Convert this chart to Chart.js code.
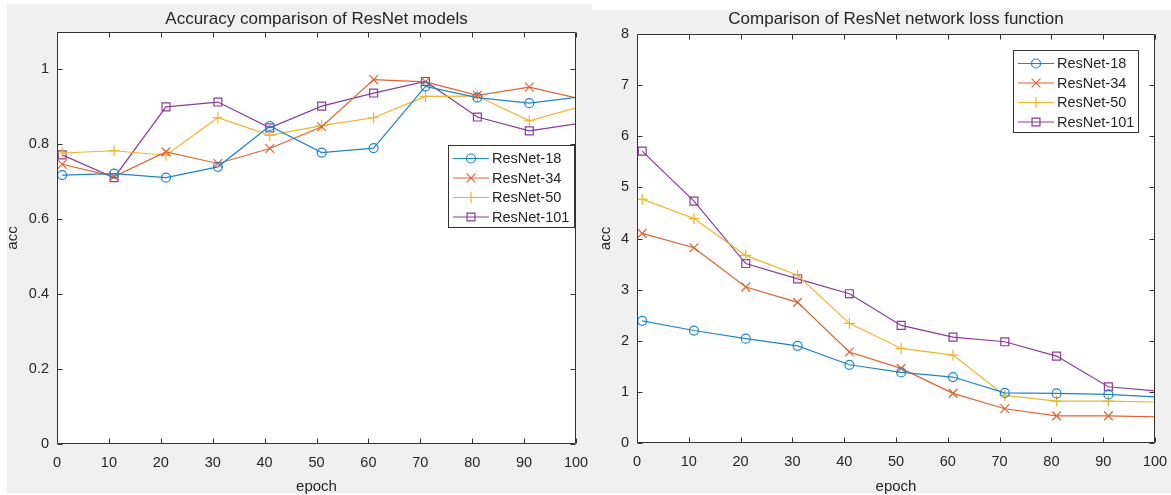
<!DOCTYPE html>
<html>
<head>
<meta charset="utf-8">
<script src="https://cdn.jsdelivr.net/npm/chart.js@4.4.1/dist/chart.umd.min.js"></script>
<style>
html, body { margin: 0; padding: 0; background: #fff; }
body { width: 1171px; height: 495px; position: relative; overflow: hidden; }
.panel { position: absolute; background: #f0f0f0; }
#p1 { left: 7px; top: 4px; width: 585px; height: 489px; }
#p2 { left: 592px; top: 10px; width: 579px; height: 483px; }
canvas { position: absolute; top: 0; }
#accChart { left: 0; }
#lossChart { left: 590px; }
</style>
</head>
<body>
<div class="panel" id="p1"></div>
<div class="panel" id="p2"></div>
<canvas id="accChart" width="590" height="495"></canvas>
<canvas id="lossChart" width="581" height="495"></canvas>
<script>
// epochs where the values were logged (the last one sits just past the axis end)
const epochs = [1, 11, 21, 31, 41, 51, 61, 71, 81, 91, 101];
const modelNames = ['ResNet-18', 'ResNet-34', 'ResNet-50', 'ResNet-101'];

const acc18 = [0.718, 0.722, 0.711, 0.740, 0.849, 0.778, 0.790, 0.955, 0.925, 0.910, 0.927];
const acc34 = [0.747, 0.714, 0.780, 0.749, 0.789, 0.847, 0.973, 0.967, 0.931, 0.953, 0.921];
const acc50 = [0.777, 0.783, 0.771, 0.871, 0.824, 0.850, 0.871, 0.928, 0.929, 0.863, 0.901];
const acc101 = [0.772, 0.711, 0.900, 0.913, 0.844, 0.902, 0.937, 0.968, 0.873, 0.836, 0.857];

const loss18 = [2.39, 2.20, 2.04, 1.90, 1.53, 1.38, 1.29, 0.98, 0.97, 0.95, 0.895];
const loss34 = [4.10, 3.82, 3.05, 2.75, 1.78, 1.46, 0.97, 0.67, 0.53, 0.53, 0.51];
const loss50 = [4.77, 4.39, 3.67, 3.28, 2.34, 1.85, 1.72, 0.93, 0.82, 0.82, 0.80];
const loss101 = [5.71, 4.73, 3.51, 3.21, 2.92, 2.30, 2.07, 1.98, 1.70, 1.10, 1.01];

const xTicks = [0, 10, 20, 30, 40, 50, 60, 70, 80, 90, 100];
const accTicks = [0, 0.2, 0.4, 0.6, 0.8, 1];
const lossTicks = [0, 1, 2, 3, 4, 5, 6, 7, 8];

const colors = ['#1f86c9', '#df6433', '#efb52a', '#8a3b9c'];
const markers = [
    {pointStyle: 'circle', radius: 4.5},
    {pointStyle: 'crossRot', radius: 6.2},
    {pointStyle: 'cross', radius: 5.5},
    {pointStyle: 'rect', radius: 5.6}
];

const FONT = 'Liberation Sans, Arial, Helvetica, sans-serif';
const TEXT = '#262626';
const AXIS = '#333333';

function makeDatasets(series) {
    return series.map((values, i) => ({
        label: modelNames[i],
        data: values.map((v, k) => ({x: epochs[k], y: v})),
        borderColor: colors[i],
        borderWidth: 1.2,
        pointStyle: markers[i].pointStyle,
        pointRadius: markers[i].radius,
        pointBorderColor: colors[i],
        pointBackgroundColor: 'rgba(0,0,0,0)',
        pointBorderWidth: 1.2,
        tension: 0
    }));
}

// white axes background, box, inward ticks, title, axis labels and the in-axes legend
const matlabAxes = {
    id: 'matlabAxes',
    beforeDraw(chart) {
        const a = chart.chartArea;
        chart.ctx.save();
        chart.ctx.fillStyle = '#ffffff';
        chart.ctx.fillRect(a.left, a.top, a.right - a.left, a.bottom - a.top);
        chart.ctx.restore();
    },
    afterDatasetsDraw(chart, args, opts) {
        const ctx = chart.ctx;
        const a = chart.chartArea;
        const xs = chart.scales.x, ys = chart.scales.y;
        const L = Math.round(a.left) + 0.5, R = Math.round(a.right) - 0.5;
        const T = Math.round(a.top) + 0.5, B = Math.round(a.bottom) - 0.5;
        ctx.save();
        ctx.strokeStyle = AXIS;
        ctx.lineWidth = 1;
        ctx.beginPath();
        ctx.rect(L, T, R - L, B - T);
        xs.ticks.forEach(t => {
            const px = Math.round(xs.getPixelForValue(t.value)) + 0.5;
            ctx.moveTo(px, B); ctx.lineTo(px, B - 5);
            ctx.moveTo(px, T); ctx.lineTo(px, T + 5);
        });
        ys.ticks.forEach(t => {
            const py = Math.round(ys.getPixelForValue(t.value)) + 0.5;
            ctx.moveTo(L, py); ctx.lineTo(L + 5, py);
            ctx.moveTo(R, py); ctx.lineTo(R - 5, py);
        });
        ctx.stroke();

        // titles
        const cx = (a.left + a.right) / 2;
        ctx.fillStyle = TEXT;
        ctx.textAlign = 'center';
        ctx.textBaseline = 'middle';
        ctx.font = '17px ' + FONT;
        ctx.fillText(opts.title, cx, 19.5);
        ctx.font = '15px ' + FONT;
        ctx.fillText('epoch', cx, 487);
        ctx.save();
        ctx.translate(opts.yLabelX, (a.top + a.bottom) / 2);
        ctx.rotate(-Math.PI / 2);
        ctx.fillText('acc', 0, 0);
        ctx.restore();

        // legend
        const lg = opts.legend;
        ctx.fillStyle = '#ffffff';
        ctx.fillRect(lg.x, lg.y, lg.w, lg.h);
        ctx.strokeStyle = AXIS;
        ctx.strokeRect(lg.x + 0.5, lg.y + 0.5, lg.w - 1, lg.h - 1);
        ctx.textAlign = 'left';
        ctx.font = '14.5px ' + FONT;
        chart.data.datasets.forEach((ds, i) => {
            const y = lg.y + 13.5 + i * 19.5;
            ctx.strokeStyle = ds.borderColor;
            ctx.lineWidth = 1.2;
            ctx.beginPath();
            ctx.moveTo(lg.x + 5, y);
            ctx.lineTo(lg.x + 41, y);
            ctx.stroke();
            ctx.fillStyle = 'rgba(0,0,0,0)';
            Chart.helpers.drawPoint(ctx, {
                pointStyle: ds.pointStyle,
                radius: ds.pointRadius,
                borderWidth: 1.2,
                rotation: 0
            }, lg.x + 23, y);
            ctx.fillStyle = TEXT;
            ctx.fillText(ds.label, lg.x + 44, y + 0.5);
        });
        ctx.restore();
    }
};

function makeChart(id, series, yMin, yMax, yTicks, padRight, yWidth, xHeight, plug) {
    return new Chart(document.getElementById(id), {
        type: 'line',
        data: {datasets: makeDatasets(series)},
        plugins: [matlabAxes],
        options: {
            responsive: false,
            animation: false,
            events: [],
            layout: {padding: {left: 0, right: padRight, top: plug.top, bottom: 0}},
            plugins: {
                legend: {display: false},
                title: {display: false},
                tooltip: {enabled: false},
                matlabAxes: plug
            },
            scales: {
                x: {
                    type: 'linear',
                    min: 0,
                    max: 100,
                    grid: {display: false, drawTicks: false},
                    border: {display: false},
                    afterBuildTicks: s => { s.ticks = xTicks.map(v => ({value: v})); },
                    afterFit: s => {
                        s.height = xHeight;
                        s.paddingLeft = 0;
                        s.paddingRight = 0;
                    },
                    ticks: {
                        padding: 10,
                        maxRotation: 0,
                        autoSkip: false,
                        color: TEXT,
                        font: {family: FONT, size: 14.5},
                        callback: v => String(v)
                    }
                },
                y: {
                    type: 'linear',
                    min: yMin,
                    max: yMax,
                    grid: {display: false, drawTicks: false},
                    border: {display: false},
                    afterBuildTicks: s => { s.ticks = yTicks.map(v => ({value: v})); },
                    afterFit: s => {
                        s.width = yWidth;
                        s.paddingTop = 0;
                        s.paddingBottom = 0;
                    },
                    ticks: {
                        padding: 8,
                        autoSkip: false,
                        color: TEXT,
                        font: {family: FONT, size: 14.5},
                        callback: v => String(v)
                    }
                }
            }
        }
    });
}

makeChart('accChart', [acc18, acc34, acc50, acc101], 0, 1.1, accTicks, 14, 57, 51, {
    top: 32,
    title: 'Accuracy comparison of ResNet models',
    yLabelX: 13,
    legend: {x: 448, y: 145, w: 127, h: 83}
});

makeChart('lossChart', [loss18, loss34, loss50, loss101], 0, 8, lossTicks, 16, 47, 52, {
    top: 34,
    title: 'Comparison of ResNet network loss function',
    yLabelX: 16,
    legend: {x: 423, y: 50, w: 126, h: 83}
});
</script>
</body>
</html>
